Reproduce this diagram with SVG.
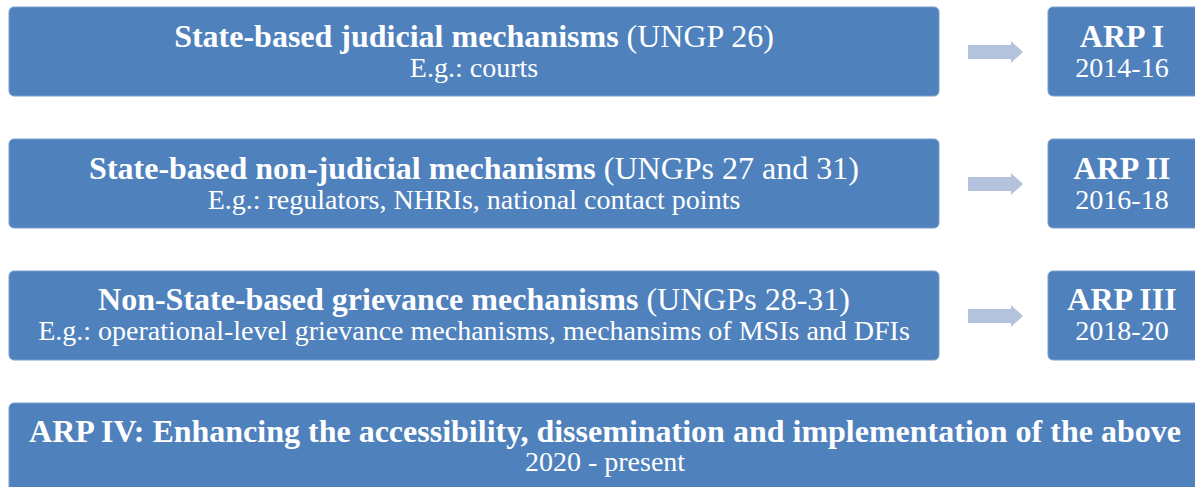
<svg xmlns="http://www.w3.org/2000/svg" width="1195" height="487" viewBox="0 0 1195 487">
<style>
.box{fill:#4F81BD;stroke:#7A9FCC;stroke-width:1}
.t{font-family:"Liberation Serif","Times New Roman",serif;fill:#FFFFFF;text-anchor:middle}
.h{font-size:32px}
.b{font-weight:bold}
.s{font-size:28px}
.arr{fill:#B3C3DD}
</style>
<rect width="1195" height="487" fill="#FFFFFF"/>
<g id="node-judicial">
<rect class="box" x="9" y="7" width="930" height="89" rx="5"/>
<text class="t h" x="474" y="47"><tspan class="b">State-based judicial mechanisms</tspan> (UNGP 26)</text>
<text class="t s" x="474" y="77">E.g.: courts</text>
</g>
<g id="node-nonjudicial">
<rect class="box" x="9" y="139" width="930" height="89" rx="5"/>
<text class="t h" x="474" y="179"><tspan class="b">State-based non-judicial mechanisms</tspan> (UNGPs 27 and 31)</text>
<text class="t s" x="474" y="209">E.g.: regulators, NHRIs, national contact points</text>
</g>
<g id="node-nonstate">
<rect class="box" x="9" y="271" width="930" height="89" rx="5"/>
<text class="t h" x="474" y="310"><tspan class="b">Non-State-based grievance mechanisms</tspan> (UNGPs 28-31)</text>
<text class="t s" x="474" y="340">E.g.: operational-level grievance mechanisms, mechansims of MSIs and DFIs</text>
</g>
<g id="node-arp1">
<rect class="box" x="1048" y="7" width="160" height="89" rx="5"/>
<text class="t h b" x="1122" y="47">ARP I</text>
<text class="t s" x="1122" y="77">2014-16</text>
</g>
<g id="node-arp2">
<rect class="box" x="1048" y="139" width="160" height="89" rx="5"/>
<text class="t h b" x="1122" y="179">ARP II</text>
<text class="t s" x="1122" y="209">2016-18</text>
</g>
<g id="node-arp3">
<rect class="box" x="1048" y="271" width="160" height="89" rx="5"/>
<text class="t h b" x="1122" y="310">ARP III</text>
<text class="t s" x="1122" y="340">2018-20</text>
</g>
<g id="node-arp4">
<rect class="box" x="9" y="403" width="1200" height="100" rx="5"/>
<text class="t h b" x="605" y="442">ARP IV: Enhancing the accessibility, dissemination and implementation of the above</text>
<text class="t s" x="605" y="471">2020 - present</text>
</g>
<g id="connectors">
<polygon class="arr" points="968,45 1011,45 1011,41 1023,52 1011,63 1011,59 968,59"/>
<polygon class="arr" points="968,177 1011,177 1011,173 1023,184 1011,195 1011,191 968,191"/>
<polygon class="arr" points="968,309 1011,309 1011,305 1023,316 1011,327 1011,323 968,323"/>
</g>
</svg>
